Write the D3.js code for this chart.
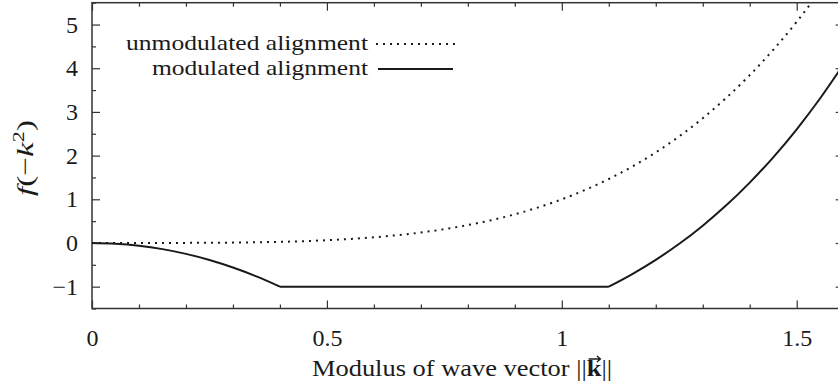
<!DOCTYPE html>
<html>
<head>
<meta charset="utf-8">
<script src="https://cdn.jsdelivr.net/npm/d3@7"></script>
<style>
  html, body { margin: 0; padding: 0; background: #fff; }
  svg { display: block; }
  text { font-family: "Liberation Serif", "Times New Roman", serif; fill: #1a1a1a; }
</style>
</head>
<body>
<svg id="chart" width="838" height="387"></svg>
<script>
// Unmodulated alignment: f(-k^2) sampled along |k|
const kUnmod = [0, 0.05, 0.1, 0.15, 0.2, 0.25, 0.3, 0.35, 0.4, 0.45, 0.5, 0.55, 0.6, 0.65, 0.7, 0.75,
                0.8, 0.85, 0.9, 0.95, 1.0, 1.05, 1.1, 1.15, 1.2, 1.25, 1.3, 1.35, 1.4, 1.45, 1.5, 1.55];
const fUnmod = [0, 0.000, 0.000, 0.001, 0.002, 0.004, 0.008, 0.015, 0.026, 0.041, 0.063, 0.092, 0.130, 0.179, 0.240, 0.316,
                0.410, 0.522, 0.656, 0.815, 1.000, 1.216, 1.464, 1.749, 2.074, 2.441, 2.856, 3.322, 3.842, 4.421, 5.063, 5.772];

// Modulated alignment: three pieces (falling, saturated at -1, rising)
const kModFall = [0, 0.05, 0.1, 0.15, 0.2, 0.25, 0.3, 0.35, 0.4];
const fModFall = [0, -0.016, -0.063, -0.141, -0.25, -0.391, -0.563, -0.766, -1.0];
const kModFlat = [0.4, 1.1];
const fModFlat = [-1.0, -1.0];
const kModRise = [1.1, 1.15, 1.2, 1.25, 1.3, 1.35, 1.4, 1.45, 1.5, 1.55, 1.6];
const fModRise = [-1.0, -0.711, -0.386, -0.019, 0.396, 0.861, 1.382, 1.960, 2.603, 3.312, 4.094];

// Axis ticks
const xTicks = [0, 0.5, 1, 1.5];
const xTickLabels = ["0", "0.5", "1", "1.5"];
const xMinor = [0.1, 0.2, 0.3, 0.4, 0.6, 0.7, 0.8, 0.9, 1.1, 1.2, 1.3, 1.4, 1.6];
const yTicks = [-1, 0, 1, 2, 3, 4, 5];
const yTickLabels = ["\u22121", "0", "1", "2", "3", "4", "5"];
const yMinor = [-1.5, -0.5, 0.5, 1.5, 2.5, 3.5, 4.5, 5.5];

const legendLabels = ["unmodulated alignment", "modulated alignment"];

const svg = d3.select("#chart");
const plotLeft = 92, plotRight = 843.7, plotTop = 2.7, plotBottom = 308.5;

const x = d3.scaleLinear().domain([0, 1.6]).range([plotLeft, plotRight]);
const y = d3.scaleLinear().domain([-1.5, 5.5]).range([plotBottom, plotTop]);

const ink = "#1a1a1a";
const frameColor = "#333";

svg.append("defs").append("clipPath").attr("id", "plotClip")
  .append("rect").attr("x", plotLeft).attr("y", plotTop)
  .attr("width", plotRight - plotLeft).attr("height", plotBottom - plotTop);

// Ticks drawn inward on all four sides
function styleAxis(g) {
  g.select(".domain").remove();
  g.selectAll(".tick line").attr("stroke", frameColor).attr("stroke-width", 1.2);
  g.selectAll(".tick text").attr("font-size", 24).attr("fill", ink)
    .style("font-family", '"Liberation Serif", serif');
}

svg.append("g").attr("transform", `translate(0,${plotBottom})`)
  .call(d3.axisBottom(x).tickValues(xTicks).tickSize(-8).tickPadding(20)
    .tickFormat((d, i) => xTickLabels[i]))
  .call(styleAxis);
svg.append("g").attr("transform", `translate(0,${plotBottom})`)
  .call(d3.axisBottom(x).tickValues(xMinor).tickSize(-4).tickFormat(""))
  .call(styleAxis);
svg.append("g").attr("transform", `translate(0,${plotTop})`)
  .call(d3.axisTop(x).tickValues(xTicks).tickSize(-8).tickFormat(""))
  .call(styleAxis);
svg.append("g").attr("transform", `translate(0,${plotTop})`)
  .call(d3.axisTop(x).tickValues(xMinor).tickSize(-4).tickFormat(""))
  .call(styleAxis);

svg.append("g").attr("transform", `translate(${plotLeft},0)`)
  .call(d3.axisLeft(y).tickValues(yTicks).tickSize(-8).tickPadding(14)
    .tickFormat((d, i) => yTickLabels[i]))
  .call(styleAxis);
svg.append("g").attr("transform", `translate(${plotLeft},0)`)
  .call(d3.axisLeft(y).tickValues(yMinor).tickSize(-4).tickFormat(""))
  .call(styleAxis);
svg.append("g").attr("transform", `translate(${plotRight},0)`)
  .call(d3.axisRight(y).tickValues(yTicks).tickSize(-8).tickFormat(""))
  .call(styleAxis);
svg.append("g").attr("transform", `translate(${plotRight},0)`)
  .call(d3.axisRight(y).tickValues(yMinor).tickSize(-4).tickFormat(""))
  .call(styleAxis);

// Frame
svg.append("rect").attr("x", plotLeft).attr("y", plotTop)
  .attr("width", plotRight - plotLeft).attr("height", plotBottom - plotTop)
  .attr("fill", "none").attr("stroke", frameColor).attr("stroke-width", 1.5);

// Curves
const line = d3.line().x(d => x(d[0])).y(d => y(d[1])).curve(d3.curveMonotoneX);
const zip = (ks, fs) => ks.map((k, i) => [k, fs[i]]);

const plot = svg.append("g").attr("clip-path", "url(#plotClip)");

plot.append("path")
  .attr("d", line(zip(kUnmod, fUnmod)))
  .attr("fill", "none").attr("stroke", ink)
  .attr("stroke-width", 2).attr("stroke-dasharray", "2,5");

const modPath = [zip(kModFall, fModFall), zip(kModFlat, fModFlat), zip(kModRise, fModRise)]
  .map(seg => line(seg)).join("");
plot.append("path")
  .attr("d", modPath)
  .attr("fill", "none").attr("stroke", ink)
  .attr("stroke-width", 2).attr("stroke-linejoin", "round");

// Legend
const legend = svg.append("g");
const legendRows = [
  { label: legendLabels[0], y: 44, dash: "2,5", x0: 376, x1: 455, width: 242 },
  { label: legendLabels[1], y: 69, dash: null, x0: 378, x1: 453, width: 216 }
];
legendRows.forEach(r => {
  legend.append("text").attr("x", 368).attr("y", r.y + 6)
    .attr("text-anchor", "end").attr("font-size", 22)
    .attr("textLength", r.width).attr("lengthAdjust", "spacingAndGlyphs")
    .text(r.label);
  legend.append("line").attr("x1", r.x0).attr("x2", r.x1)
    .attr("y1", r.y).attr("y2", r.y)
    .attr("stroke", ink).attr("stroke-width", 2)
    .attr("stroke-dasharray", r.dash);
});

// Y-axis title: f(−k²)
const yTitle = svg.append("text")
  .attr("transform", "translate(33,158) rotate(-90)")
  .attr("text-anchor", "middle").attr("font-size", 24)
  .attr("textLength", 76).attr("lengthAdjust", "spacingAndGlyphs");
yTitle.append("tspan").attr("font-style", "italic").text("f");
yTitle.append("tspan").text("(\u2212");
yTitle.append("tspan").attr("font-style", "italic").text("k");
yTitle.append("tspan").attr("font-size", 16).attr("dy", -9).text("2");
yTitle.append("tspan").attr("dy", 9).text(")");

// X-axis title: Modulus of wave vector ||k|| with an arrow over k
const xTitle = svg.append("text")
  .attr("x", 462).attr("y", 376)
  .attr("text-anchor", "middle").attr("font-size", 24)
  .attr("textLength", 300).attr("lengthAdjust", "spacingAndGlyphs");
xTitle.append("tspan").text("Modulus of wave vector ||");
xTitle.append("tspan").attr("font-weight", "bold").text("k");
xTitle.append("tspan").text("||");

const kIndex = "Modulus of wave vector ||".length;
const ext = xTitle.node().getExtentOfChar(kIndex);
const ax0 = ext.x + 2, ax1 = ext.x + ext.width - 1, ay = ext.y + 4;
svg.append("path")
  .attr("d", `M${ax0},${ay}H${ax1}M${ax1 - 3.5},${ay - 3}L${ax1},${ay}L${ax1 - 3.5},${ay + 3}`)
  .attr("fill", "none").attr("stroke", ink).attr("stroke-width", 1.3);
</script>
</body>
</html>
